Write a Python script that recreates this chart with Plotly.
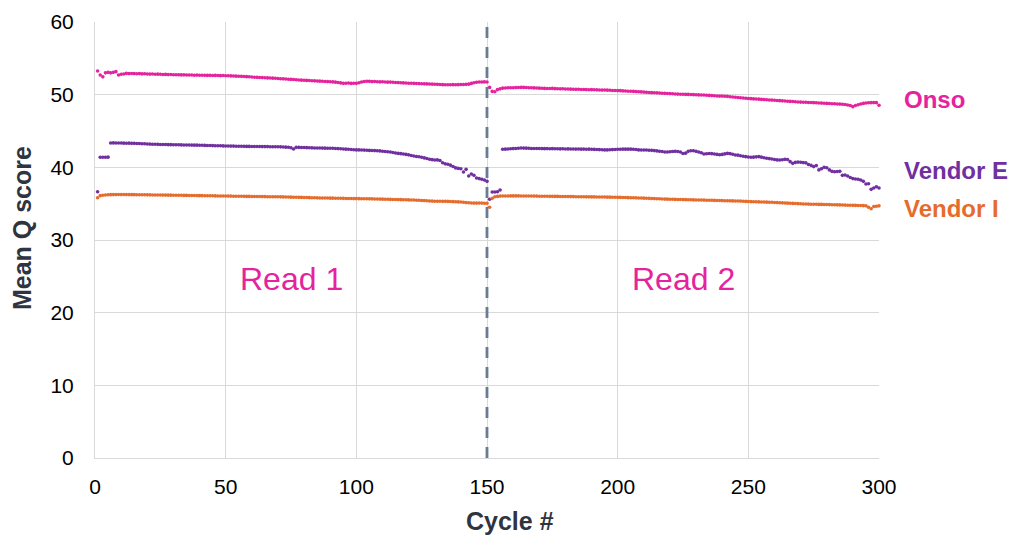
import plotly.graph_objects as go

cycles = list(range(1, 301))

onso_read1 = [
    53.25, 52.70, 52.45, 53.00, 53.07, 53.00, 53.07, 53.17, 52.70, 52.80,
    52.85, 52.93, 52.90, 52.92, 52.90, 52.88, 52.90, 52.86, 52.88, 52.85,
    52.83, 52.84, 52.80, 52.82, 52.80, 52.78, 52.79, 52.76, 52.77, 52.75,
    52.74, 52.75, 52.72, 52.73, 52.70, 52.71, 52.70, 52.68, 52.69, 52.67,
    52.68, 52.66, 52.65, 52.66, 52.64, 52.65, 52.63, 52.62, 52.63, 52.61,
    52.60, 52.58, 52.57, 52.55, 52.53, 52.52, 52.50, 52.48, 52.46, 52.44,
    52.40, 52.38, 52.37, 52.35, 52.33, 52.31, 52.30, 52.27, 52.25, 52.23,
    52.20, 52.18, 52.16, 52.12, 52.10, 52.08, 52.05, 52.02, 52.00, 51.98,
    51.96, 51.95, 51.92, 51.90, 51.88, 51.86, 51.84, 51.82, 51.80, 51.78,
    51.76, 51.72, 51.68, 51.62, 51.56, 51.57, 51.60, 51.55, 51.58, 51.56,
    51.65, 51.75, 51.82, 51.84, 51.83, 51.80, 51.82, 51.78, 51.76, 51.77,
    51.74, 51.72, 51.73, 51.70, 51.68, 51.66, 51.65, 51.62, 51.60, 51.58,
    51.57, 51.56, 51.54, 51.52, 51.50, 51.49, 51.48, 51.46, 51.45, 51.44,
    51.42, 51.40, 51.38, 51.37, 51.37, 51.36, 51.38, 51.37, 51.38, 51.40,
    51.40, 51.42, 51.45, 51.55, 51.65, 51.70, 51.74, 51.75, 51.76, 51.74,
]
onso_read2 = [
    51.00, 50.45, 50.40, 50.70, 50.80, 50.90, 50.92, 50.95, 50.96, 50.95,
    50.97, 50.98, 51.00, 51.00, 50.98, 50.96, 50.95, 50.93, 50.92, 50.90,
    50.88, 50.86, 50.85, 50.84, 50.86, 50.83, 50.82, 50.80, 50.82, 50.78,
    50.78, 50.76, 50.75, 50.73, 50.74, 50.72, 50.71, 50.70, 50.68, 50.69,
    50.67, 50.66, 50.65, 50.63, 50.64, 50.62, 50.60, 50.58, 50.57, 50.56,
    50.55, 50.52, 50.50, 50.48, 50.47, 50.45, 50.42, 50.40, 50.38, 50.35,
    50.32, 50.30, 50.28, 50.27, 50.25, 50.22, 50.20, 50.18, 50.17, 50.15,
    50.13, 50.10, 50.08, 50.06, 50.05, 50.04, 50.04, 50.02, 50.00, 49.98,
    49.97, 49.96, 49.95, 49.92, 49.90, 49.87, 49.85, 49.82, 49.80, 49.80,
    49.78, 49.77, 49.72, 49.68, 49.64, 49.60, 49.57, 49.54, 49.50, 49.48,
    49.45, 49.42, 49.40, 49.38, 49.35, 49.32, 49.30, 49.27, 49.25, 49.23,
    49.20, 49.18, 49.15, 49.12, 49.10, 49.07, 49.05, 49.02, 49.00, 48.98,
    48.96, 48.95, 48.93, 48.92, 48.90, 48.88, 48.86, 48.84, 48.82, 48.80,
    48.78, 48.76, 48.74, 48.72, 48.70, 48.68, 48.64, 48.58, 48.50, 48.35,
    48.50, 48.62, 48.72, 48.80, 48.85, 48.88, 48.90, 48.91, 48.90, 48.55,
]

vendor_e_read1 = [
    36.65, 41.38, 41.38, 41.38, 41.40, 43.35, 43.36, 43.35, 43.34, 43.35,
    43.33, 43.32, 43.33, 43.30, 43.30, 43.28, 43.27, 43.25, 43.24, 43.22,
    43.20, 43.18, 43.17, 43.16, 43.15, 43.14, 43.14, 43.12, 43.12, 43.11,
    43.10, 43.10, 43.09, 43.08, 43.08, 43.07, 43.06, 43.05, 43.05, 43.04,
    43.03, 43.02, 43.01, 43.00, 42.99, 42.98, 42.97, 42.96, 42.95, 42.93,
    42.93, 42.92, 42.92, 42.91, 42.90, 42.90, 42.89, 42.88, 42.88, 42.87,
    42.87, 42.86, 42.86, 42.85, 42.85, 42.85, 42.84, 42.84, 42.83, 42.84,
    42.82, 42.80, 42.78, 42.76, 42.70, 42.52, 42.75, 42.74, 42.73, 42.72,
    42.71, 42.70, 42.68, 42.67, 42.66, 42.66, 42.65, 42.64, 42.63, 42.63,
    42.62, 42.60, 42.58, 42.55, 42.53, 42.50, 42.48, 42.45, 42.43, 42.40,
    42.40, 42.38, 42.37, 42.35, 42.33, 42.32, 42.30, 42.28, 42.26, 42.22,
    42.18, 42.14, 42.10, 42.04, 41.97, 41.92, 41.88, 41.83, 41.78, 41.72,
    41.62, 41.56, 41.50, 41.45, 41.38, 41.30, 41.22, 41.12, 41.06, 41.00,
    41.02, 40.95, 40.64, 40.48, 40.42, 40.30, 40.12, 39.92, 39.85, 39.80,
    39.35, 39.72, 38.80, 39.08, 38.90, 38.53, 38.45, 38.35, 38.25, 38.07,
]
vendor_e_read2 = [
    35.60, 36.60, 36.60, 36.65, 36.88, 42.48, 42.50, 42.52, 42.55, 42.58,
    42.60, 42.62, 42.66, 42.65, 42.64, 42.62, 42.60, 42.60, 42.59, 42.60,
    42.58, 42.57, 42.58, 42.56, 42.57, 42.55, 42.56, 42.54, 42.55, 42.53,
    42.54, 42.52, 42.53, 42.51, 42.52, 42.50, 42.51, 42.49, 42.50, 42.48,
    42.47, 42.46, 42.44, 42.42, 42.40, 42.40, 42.42, 42.44, 42.46, 42.48,
    42.49, 42.50, 42.50, 42.50, 42.50, 42.48, 42.45, 42.40, 42.38, 42.38,
    42.38, 42.36, 42.34, 42.30, 42.26, 42.22, 42.18, 42.12, 42.10, 42.15,
    42.18, 42.20, 42.18, 42.10, 41.90, 41.95, 42.20, 42.29, 42.28, 42.20,
    42.12, 42.00, 41.83, 41.86, 41.90, 41.88, 41.83, 41.78, 41.74, 41.78,
    41.85, 41.92, 41.88, 41.80, 41.70, 41.68, 41.60, 41.52, 41.47, 41.42,
    41.38, 41.40, 41.44, 41.47, 41.40, 41.32, 41.25, 41.20, 41.15, 41.08,
    41.02, 41.00, 41.05, 41.10, 41.08, 40.78, 40.55, 40.68, 40.72, 40.70,
    40.65, 40.62, 40.40, 40.27, 40.10, 40.25, 39.65, 39.80, 40.00, 39.95,
    39.65, 39.45, 39.40, 39.42, 39.45, 38.90, 38.95, 38.80, 38.60, 38.45,
    38.40, 38.35, 38.25, 38.07, 37.70, 37.75, 36.97, 37.15, 37.33, 37.15,
]

vendor_i_read1 = [
    35.82, 36.10, 36.15, 36.20, 36.22, 36.24, 36.25, 36.25, 36.26, 36.25,
    36.26, 36.25, 36.25, 36.24, 36.24, 36.23, 36.23, 36.22, 36.22, 36.21,
    36.21, 36.20, 36.20, 36.20, 36.19, 36.18, 36.18, 36.17, 36.17, 36.16,
    36.16, 36.15, 36.15, 36.14, 36.14, 36.13, 36.12, 36.12, 36.11, 36.10,
    36.10, 36.09, 36.09, 36.08, 36.08, 36.07, 36.06, 36.06, 36.05, 36.05,
    36.04, 36.04, 36.03, 36.03, 36.02, 36.02, 36.01, 36.00, 36.00, 35.99,
    35.99, 35.98, 35.98, 35.97, 35.97, 35.96, 35.96, 35.96, 35.95, 35.95,
    35.94, 35.93, 35.92, 35.91, 35.90, 35.89, 35.88, 35.87, 35.86, 35.85,
    35.84, 35.83, 35.82, 35.81, 35.80, 35.79, 35.78, 35.78, 35.77, 35.76,
    35.76, 35.75, 35.74, 35.74, 35.73, 35.72, 35.72, 35.71, 35.70, 35.70,
    35.69, 35.68, 35.68, 35.67, 35.66, 35.66, 35.65, 35.64, 35.63, 35.62,
    35.61, 35.60, 35.59, 35.58, 35.57, 35.56, 35.55, 35.54, 35.53, 35.52,
    35.51, 35.50, 35.48, 35.46, 35.44, 35.42, 35.40, 35.37, 35.35, 35.34,
    35.33, 35.33, 35.32, 35.32, 35.31, 35.30, 35.28, 35.26, 35.24, 35.22,
    35.20, 35.15, 35.12, 35.10, 35.08, 35.08, 35.10, 35.08, 35.06, 35.05,
]
vendor_i_read2 = [
    34.50, 35.73, 35.96, 36.00, 36.04, 36.05, 36.06, 36.06, 36.07, 36.07,
    36.07, 36.07, 36.06, 36.06, 36.06, 36.05, 36.05, 36.04, 36.04, 36.03,
    36.03, 36.02, 36.02, 36.01, 36.01, 36.00, 36.00, 35.99, 35.99, 35.98,
    35.98, 35.97, 35.97, 35.96, 35.96, 35.95, 35.95, 35.94, 35.94, 35.93,
    35.93, 35.92, 35.92, 35.91, 35.91, 35.90, 35.90, 35.89, 35.88, 35.87,
    35.86, 35.85, 35.84, 35.83, 35.82, 35.81, 35.80, 35.79, 35.77, 35.76,
    35.75, 35.73, 35.72, 35.70, 35.68, 35.67, 35.65, 35.63, 35.62, 35.60,
    35.60, 35.59, 35.58, 35.57, 35.56, 35.55, 35.54, 35.53, 35.52, 35.51,
    35.50, 35.50, 35.49, 35.48, 35.47, 35.46, 35.45, 35.44, 35.43, 35.42,
    35.41, 35.40, 35.39, 35.38, 35.37, 35.36, 35.35, 35.33, 35.31, 35.29,
    35.28, 35.27, 35.26, 35.24, 35.23, 35.22, 35.21, 35.20, 35.19, 35.17,
    35.15, 35.13, 35.11, 35.09, 35.07, 35.05, 35.04, 35.02, 35.00, 34.98,
    34.96, 34.95, 34.94, 34.93, 34.92, 34.91, 34.90, 34.90, 34.89, 34.88,
    34.87, 34.86, 34.85, 34.84, 34.83, 34.82, 34.80, 34.79, 34.78, 34.77,
    34.76, 34.75, 34.74, 34.73, 34.72, 34.50, 34.30, 34.60, 34.65, 34.70,
]

series_names = ["Onso", "Vendor E", "Vendor I"]
series_values = [
    onso_read1 + onso_read2,
    vendor_e_read1 + vendor_e_read2,
    vendor_i_read1 + vendor_i_read2,
]
series_colors = ["#E4239C", "#7030A0", "#E66C2C"]
label_y = [49.3, 39.6, 34.4]

read_labels = ["Read 1", "Read 2"]
read_label_x = [75, 225]
read_boundary = 150

x_ticks = [0, 50, 100, 150, 200, 250, 300]
y_ticks = [0, 10, 20, 30, 40, 50, 60]
x_title = "Cycle #"
y_title = "Mean Q score"

FONT = "Liberation Sans, Arial, sans-serif"
GRID = "#D9D9D9"
TITLE_COLOR = "#2E3440"

fig = go.Figure()
for name, vals, col in zip(series_names, series_values, series_colors):
    fig.add_trace(go.Scatter(
        x=cycles, y=vals, mode="markers", name=name,
        marker=dict(color=col, size=3.6, symbol="circle", line=dict(width=0)),
        showlegend=False, cliponaxis=False,
    ))

fig.add_shape(type="line", xref="x", yref="y",
              x0=read_boundary, x1=read_boundary, y0=0, y1=60,
              line=dict(color="#6A7B94", width=2.8, dash="11px,9px"))

for name, yv, col in zip(series_names, label_y, series_colors):
    fig.add_annotation(xref="paper", yref="y", x=1.029, y=yv, text=f"<b>{name}</b>",
                       showarrow=False, xanchor="left", yanchor="middle",
                       font=dict(family=FONT, size=24, color=col))

for txt, xv in zip(read_labels, read_label_x):
    fig.add_annotation(xref="x", yref="y", x=xv, y=24.6, text=txt, showarrow=False,
                       xanchor="center", yanchor="middle",
                       font=dict(family=FONT, size=32, color="#E4239C"))

# axis titles (placed as in the reference, slightly off-centre)
fig.add_annotation(xref="paper", yref="paper", x=0.529, y=-0.144, text=f"<b>{x_title}</b>",
                   showarrow=False, xanchor="center", yanchor="middle",
                   font=dict(family=FONT, size=25, color=TITLE_COLOR))
fig.add_annotation(xref="paper", yref="paper", x=-0.093, y=0.5275, text=f"<b>{y_title}</b>",
                   showarrow=False, xanchor="center", yanchor="middle", textangle=-90,
                   font=dict(family=FONT, size=25, color=TITLE_COLOR))

fig.update_layout(
    width=1016, height=536,
    margin=dict(l=87, r=145, t=14, b=86),
    paper_bgcolor="white", plot_bgcolor="white",
    font=dict(family=FONT, size=20, color="#000000"),
    xaxis=dict(
        range=[0, 300], tickvals=x_ticks, showgrid=True, gridcolor=GRID, gridwidth=1,
        showline=True, linecolor=GRID, linewidth=1, zeroline=False, automargin=False,
        ticks="outside", ticklen=10, tickcolor="rgba(0,0,0,0)",
        tickfont=dict(family=FONT, size=21, color="#000000"),
    ),
    yaxis=dict(
        range=[0, 60], tickvals=y_ticks, showgrid=True, gridcolor=GRID, gridwidth=1,
        showline=True, linecolor=GRID, linewidth=1, zeroline=False, automargin=False,
        ticks="outside", ticklen=16, tickcolor="rgba(0,0,0,0)",
        tickfont=dict(family=FONT, size=21, color="#000000"),
    ),
)

fig.write_html("out.html")
